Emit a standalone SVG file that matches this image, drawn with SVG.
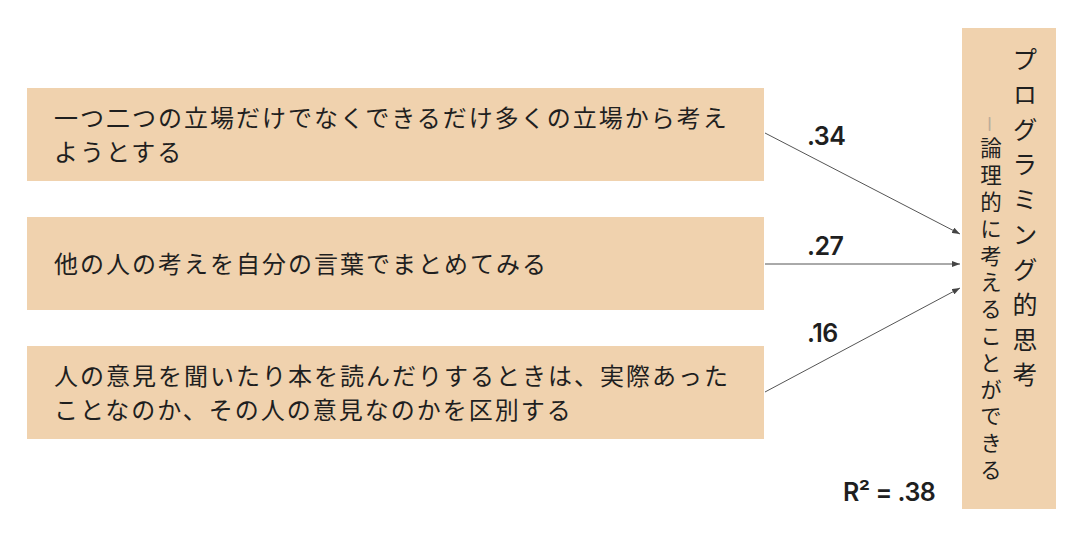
<svg xmlns="http://www.w3.org/2000/svg" width="1083" height="537" viewBox="0 0 1083 537">
  <style>
    .box { fill: #f0d2ae; }
    .jp { font-family: "Noto Sans CJK JP", "Noto Sans", sans-serif; fill: #1f1f1f; }
    .item { font-size: 24px; letter-spacing: 2px; }
    .num { font-family: Inter, "Liberation Sans", sans-serif; font-size: 25px; font-weight: 600; letter-spacing: -0.5px; fill: #1f1f1f; }
    .conn { stroke: #555; stroke-width: 1; fill: none; marker-end: url(#ah); }
  </style>
  <defs>
    <marker id="ah" viewBox="0 0 8 6" refX="8" refY="3" markerWidth="8" markerHeight="6" markerUnits="userSpaceOnUse" orient="auto">
      <path d="M0,0 L8,3 L0,6 Z" fill="#444"/>
    </marker>
  </defs>
  <rect width="1083" height="537" fill="#ffffff"/>

  <g id="node-item1">
    <rect class="box" x="27" y="88" width="737" height="93"/>
    <text class="jp item" x="54" y="127">一つ二つの立場だけでなくできるだけ多くの立場から考え</text>
    <text class="jp item" x="54" y="161">ようとする</text>
  </g>

  <g id="node-item2">
    <rect class="box" x="27" y="217" width="737" height="93"/>
    <text class="jp item" x="54" y="273">他の人の考えを自分の言葉でまとめてみる</text>
  </g>

  <g id="node-item3">
    <rect class="box" x="27" y="346" width="737" height="93"/>
    <text class="jp item" x="54" y="385">人の意見を聞いたり本を読んだりするときは、実際あった</text>
    <text class="jp item" x="54" y="419">ことなのか、その人の意見なのかを区別する</text>
  </g>

  <g id="node-outcome">
    <rect class="box" x="962" y="28" width="94" height="481"/>
    <text class="jp" x="1025" y="47" writing-mode="vertical-rl" style="font-size:25px; letter-spacing:10px;">プログラミング的思考</text>
    <text transform="translate(990,124) rotate(90)" x="0" y="4.5" text-anchor="middle" style="font-family:'Liberation Sans',sans-serif; font-size:13px; fill:#ffffff; stroke:#a89680; stroke-width:0.6;">—</text>
    <text class="jp" x="991" y="137.5" writing-mode="vertical-rl" style="font-size:21.5px; letter-spacing:5.3px;">論理的に考えることができる</text>
  </g>

  <g id="connectors">
    <line class="conn" x1="765" y1="133" x2="960" y2="234"/>
    <line class="conn" x1="765" y1="264" x2="960" y2="264"/>
    <line class="conn" x1="765" y1="392" x2="960" y2="288"/>
    <text class="num" x="807" y="145">.34</text>
    <text class="num" x="807" y="255">.27</text>
    <text class="num" x="807" y="342">.16</text>
  </g>

  <text class="num" x="843" y="501">R² = .38</text>
</svg>
